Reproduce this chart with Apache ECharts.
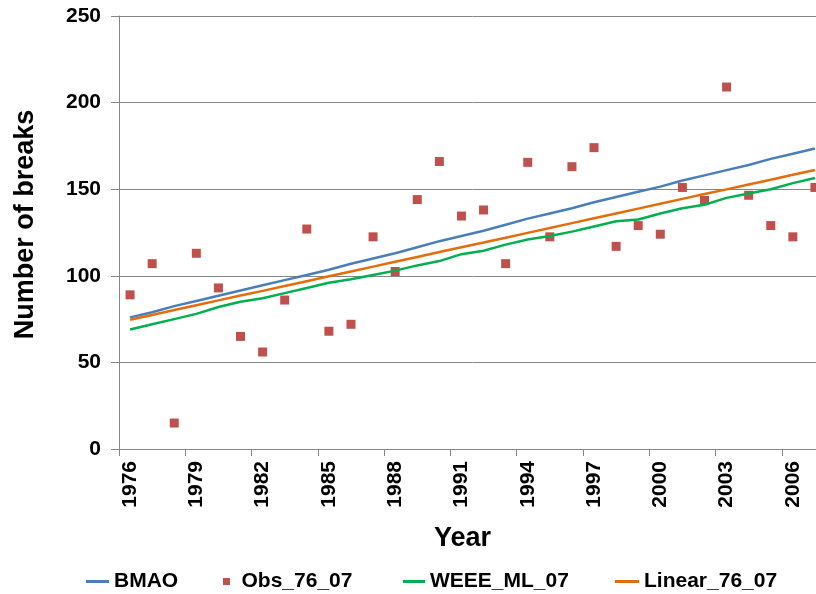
<!DOCTYPE html>
<html>
<head>
<meta charset="utf-8">
<script src="https://cdn.jsdelivr.net/npm/echarts@6/dist/echarts.min.js"></script>
<style>
html,body{margin:0;padding:0;background:#fff;overflow:hidden;width:816px;height:594px;}
#chart{width:830px;height:594px;}
</style>
</head>
<body>
<div id="chart"></div>
<script>
const years = ['1976','1977','1978','1979','1980','1981','1982','1983','1984','1985','1986','1987','1988','1989','1990','1991','1992','1993','1994','1995','1996','1997','1998','1999','2000','2001','2002','2003','2004','2005','2006','2007'];
const bmao = [76, 79, 82.5, 85.5, 88.5, 91.5, 94.5, 97.5, 100.5, 103.5, 107, 110, 113, 116.5, 120, 123, 126, 129.5, 133, 136, 139, 142.5, 145.5, 148.5, 151.5, 155, 158, 161, 164, 167.5, 170.5, 173.5];
const obs = [89, 107, 15, 113, 93, 65, 56, 86, 127, 68, 72, 122.5, 102.5, 144, 166, 134.5, 138, 107, 165.5, 122.5, 163, 174, 117, 129, 124, 151, 143.5, 209, 146.5, 129, 122.5, 151];
const weee = [69, 72, 75, 78, 82, 85, 87, 90, 93, 96, 98, 100.5, 103, 106, 108.5, 112.5, 114.5, 118, 121, 123, 125.5, 128.5, 131.5, 132.5, 136, 139, 141, 145, 147.5, 150, 153.5, 156.5];
const linear = [74.6, 77.4, 80.2, 83.0, 85.8, 88.6, 91.3, 94.1, 96.9, 99.7, 102.5, 105.3, 108.1, 110.9, 113.7, 116.5, 119.2, 122.0, 124.8, 127.6, 130.4, 133.2, 136.0, 138.8, 141.6, 144.4, 147.2, 149.9, 152.7, 155.5, 158.3, 161.1];
const yTicks = {min: 0, max: 250, interval: 50};

const FONT = 'Liberation Sans, Arial, sans-serif';
const C_BLUE = '#4A7EBB', C_RED = '#C0504D', C_GREEN = '#00B050', C_ORANGE = '#E46C0A';

const chart = echarts.init(document.getElementById('chart'), null, {renderer: 'canvas'});

function leg(name, left, icon, w, h) {
  return {
    left: left, top: 566, orient: 'horizontal',
    data: [{name: name, icon: icon}],
    itemWidth: w, itemHeight: h, symbolKeepAspect: true,
    textStyle: {fontFamily: FONT, fontWeight: 'bold', fontSize: 21, color: '#000'},
    selectedMode: false
  };
}

chart.setOption({
  animation: false,
  backgroundColor: '#fff',
  grid: {left: 119, top: 16, width: 707, height: 433},
  legend: [
    leg('BMAO', 81, 'rect', 23, 3),
    leg('Obs_76_07', 218, 'path://M0,0L7,0L7,7L0,7Z', 20, 7),
    leg('WEEE_ML_07', 398, 'rect', 22, 3),
    leg('Linear_76_07', 610, 'rect', 24, 3)
  ],
  xAxis: {
    type: 'category', data: years, boundaryGap: true,
    name: 'Year', nameLocation: 'middle', nameGap: 76,
    nameTextStyle: {fontFamily: FONT, fontWeight: 'bold', fontSize: 27, color: '#000', padding: [0, 20, 0, 0]},
    axisLine: {lineStyle: {color: '#868686', width: 1}},
    axisTick: {show: true, length: 7, lineStyle: {color: '#868686'}},
    axisLabel: {interval: 2, rotate: 90, margin: 12, fontFamily: FONT, fontWeight: 'bold', fontSize: 21, color: '#000'},
    splitLine: {show: false}
  },
  yAxis: {
    type: 'value', min: yTicks.min, max: yTicks.max, interval: yTicks.interval,
    name: 'Number of breaks', nameLocation: 'middle', nameGap: 80, nameRotate: 90,
    nameTextStyle: {fontFamily: FONT, fontWeight: 'bold', fontSize: 27, color: '#000', padding: [0, 0, 0, 16]},
    axisLine: {show: true, lineStyle: {color: '#868686', width: 1}},
    axisTick: {show: true, length: 8, lineStyle: {color: '#868686'}},
    axisLabel: {margin: 18, fontFamily: FONT, fontWeight: 'bold', fontSize: 21, color: '#000'},
    splitLine: {show: true, lineStyle: {color: '#868686', width: 1}}
  },
  series: [
    {name: 'BMAO', type: 'line', data: bmao, symbol: 'none', lineStyle: {color: C_BLUE, width: 2.5}, itemStyle: {color: C_BLUE}},
    {name: 'Obs_76_07', type: 'scatter', data: obs, symbol: 'rect', symbolSize: 9, itemStyle: {color: C_RED, opacity: 1}},
    {name: 'WEEE_ML_07', type: 'line', data: weee, symbol: 'none', lineStyle: {color: C_GREEN, width: 2.5}, itemStyle: {color: C_GREEN}},
    {name: 'Linear_76_07', type: 'line', data: linear, symbol: 'none', lineStyle: {color: C_ORANGE, width: 2.5}, itemStyle: {color: C_ORANGE}}
  ]
});
</script>
</body>
</html>
